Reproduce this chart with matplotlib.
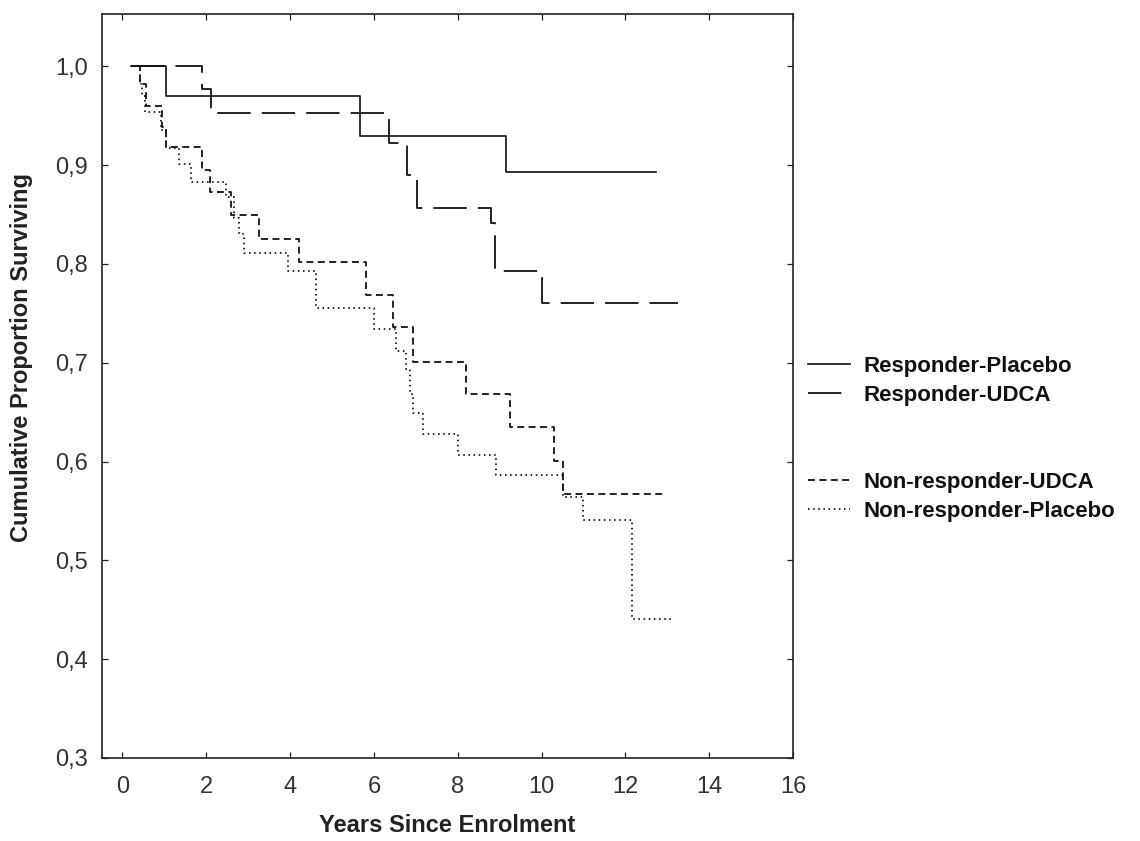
import numpy as np
import matplotlib
matplotlib.use('Agg')
import matplotlib.pyplot as plt
from matplotlib.lines import Line2D
from matplotlib.ticker import FuncFormatter, MultipleLocator

plt.rcParams['font.family'] = ['Liberation Sans', 'DejaVu Sans']
plt.rcParams['lines.scale_dashes'] = False

# Kaplan-Meier steps: event times (years) and survival after each step,
# last entry = end of follow-up
resp_placebo_t = [0.21, 1.03, 5.66, 9.16, 12.72]
resp_placebo_s = [1.0, 0.970, 0.930, 0.893, 0.893]

resp_udca_t = [0.21, 1.90, 2.12, 6.35, 6.78, 7.02, 8.80, 8.90, 10.0, 13.25]
resp_udca_s = [1.0, 0.977, 0.953, 0.922, 0.890, 0.857, 0.841, 0.793, 0.761, 0.761]

nonresp_udca_t = [0.38, 0.42, 0.57, 0.95, 1.03, 1.90, 2.08, 2.58, 3.27, 4.21,
                  5.82, 6.45, 6.93, 8.20, 9.24, 10.29, 10.51, 12.98]
nonresp_udca_s = [1.0, 0.982, 0.960, 0.939, 0.918, 0.895, 0.873, 0.850, 0.825, 0.802,
                  0.769, 0.736, 0.701, 0.668, 0.635, 0.601, 0.567, 0.567]

nonresp_placebo_t = [0.38, 0.41, 0.47, 0.53, 0.92, 1.04, 1.34, 1.64, 2.46, 2.65, 2.79,
                     2.91, 3.95, 4.61, 6.00, 6.52, 6.77, 6.85, 6.93, 7.16, 8.01,
                     8.92, 10.51, 10.99, 12.15, 13.15]
nonresp_placebo_s = [1.0, 0.982, 0.970, 0.954, 0.936, 0.917, 0.901, 0.883, 0.868, 0.847, 0.830,
                     0.811, 0.793, 0.755, 0.734, 0.712, 0.694, 0.668, 0.649, 0.628, 0.607,
                     0.586, 0.564, 0.541, 0.441, 0.441]

labels = ['Responder-Placebo', 'Responder-UDCA', 'Non-responder-UDCA', 'Non-responder-Placebo']

W, H = 1140, 841
fig = plt.figure(figsize=(W / 100, H / 100), dpi=100)
ax = fig.add_axes([101.5 / W, 1 - 758 / H, (793 - 101.5) / W, (758 - 14) / H])

l1, = ax.step(resp_placebo_t, resp_placebo_s, where='post', color='#111111', lw=1.2,
              linestyle='-')
l2, = ax.step(resp_udca_t, resp_udca_s, where='post', color='#111111', lw=1.3,
              linestyle=(0, (24, 8)))
l3, = ax.step(nonresp_udca_t, nonresp_udca_s, where='post', color='#111111', lw=1.3,
              linestyle=(0, (5, 3.2)))
l4, = ax.step(nonresp_placebo_t, nonresp_placebo_s, where='post', color='#111111', lw=1.3,
              linestyle=(0, (1.1, 2.6)))

ax.set_xlim(-0.5, 16)
ax.set_ylim(0.3, 1.053)
ax.xaxis.set_major_locator(MultipleLocator(2))
ax.yaxis.set_major_locator(MultipleLocator(0.1))
ax.yaxis.set_major_formatter(FuncFormatter(lambda v, p: f'{v:.1f}'.replace('.', ',')))
ax.tick_params(direction='in', length=4.5, width=0.9, top=True, right=True,
               labelsize=17, labelcolor='#333333', color='#222222')
ax.tick_params(axis='x', pad=13)
ax.tick_params(axis='y', pad=10)
for sp in ax.spines.values():
    sp.set_linewidth(1.2)
    sp.set_color('#222222')

fig.text(447 / W, 1 - 826 / H, 'Years Since Enrolment', ha='center', va='center',
         fontsize=17, fontweight='bold', color='#222222')
fig.text(22 / W, 1 - 357 / H, 'Cumulative Proportion Surviving', ha='center', va='center',
         rotation=90, fontsize=17, fontweight='bold', color='#222222')

blank = Line2D([], [], linestyle='none')
leg_h = [l1, l2, blank, blank, l3, l4]
leg_l = [labels[0], labels[1], '', '', labels[2], labels[3]]
leg = fig.legend(leg_h, leg_l, loc='upper left', bbox_to_anchor=(808 / W, 1 - 356 / H),
                 frameon=False, borderpad=0, borderaxespad=0, fontsize=16,
                 handlelength=1.9, handletextpad=0.6, labelspacing=0.36)
for t in leg.get_texts():
    t.set_fontweight('bold')
    t.set_color('#111111')

fig.savefig('out.png', dpi=100)
